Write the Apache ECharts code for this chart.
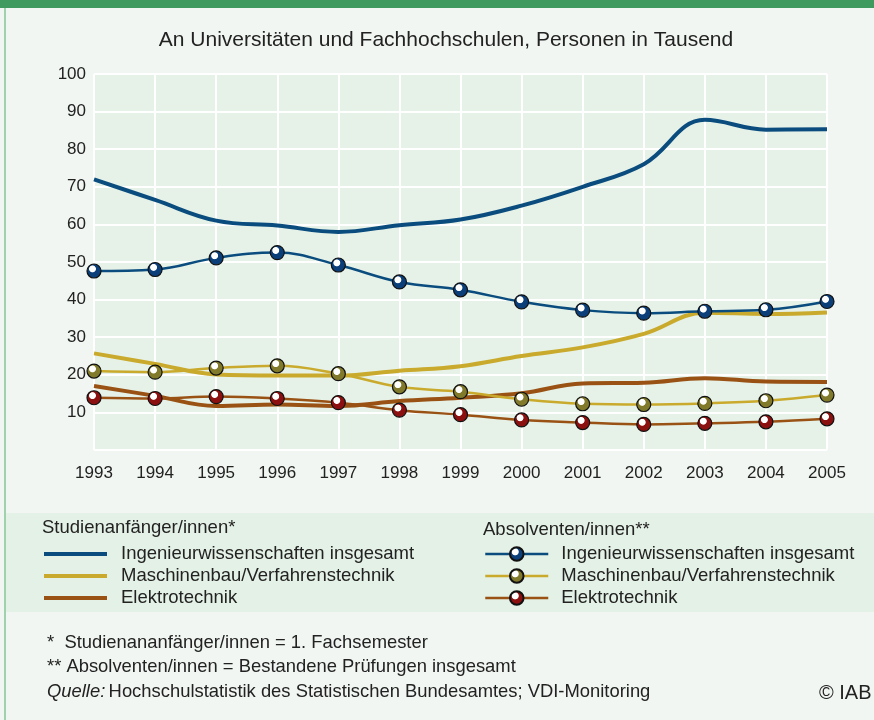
<!DOCTYPE html>
<html><head><meta charset="utf-8">
<script src="https://cdn.jsdelivr.net/npm/echarts@6/dist/echarts.min.js"></script>
<style>html,body{margin:0;padding:0;background:#f1f6f2;}#c{width:874px;height:720px;}</style>
</head><body><div id="c"></div>
<script>
var years = ['1993','1994','1995','1996','1997','1998','1999','2000','2001','2002','2003','2004','2005'];
var yTicks = [0,10,20,30,40,50,60,70,80,90,100];
var anfIng  = [72.0,66.5,61.0,59.7,58.0,59.8,61.3,65.0,70.0,76.0,87.8,85.2,85.3];
var anfMasch= [25.7,22.9,20.1,19.8,19.8,21.1,22.3,25.0,27.3,30.9,36.5,36.2,36.6];
var anfElek = [17.0,14.4,11.7,12.1,11.7,13.0,13.9,15.1,17.7,17.9,19.1,18.2,18.1];
var absIng  = [47.6,48.0,51.1,52.5,49.2,44.7,42.6,39.4,37.2,36.4,36.9,37.3,39.5];
var absMasch= [21.0,20.7,21.8,22.4,20.3,16.8,15.5,13.5,12.3,12.1,12.4,13.1,14.6];
var absElek = [13.9,13.7,14.2,13.7,12.6,10.6,9.4,8.0,7.3,6.8,7.1,7.5,8.3];
var itemNames = ['Ingenieurwissenschaften insgesamt','Maschinenbau/Verfahrenstechnik','Elektrotechnik'];
var groupNames = ['Studienanfänger/innen*','Absolventen/innen**'];

var FONT = '"Liberation Sans", Arial, sans-serif';
var cBlue='#0a4c7e', cYellow='#c9aa2c', cBrown='#995214';
var mBlue='#0b3f7a', mOlive='#807a2a', mRed='#8c1010';

function ball(c){
  return new echarts.graphic.RadialGradient(0.4,0.36,0.55,[
    {offset:0,color:'#ffffff'},{offset:0.36,color:'#ffffff'},{offset:0.46,color:c},{offset:1,color:c}]);
}
function thick(name,data,color){
  return {type:'line',name:'A|'+name,data:data,smooth:0.4,symbol:'none',z:2,
    lineStyle:{color:color,width:4},itemStyle:{color:color}};
}
function thin(name,data,color,mc){
  return {type:'line',name:'B|'+name,data:data,smooth:0.4,symbol:'circle',symbolSize:14,z:3,
    lineStyle:{color:color,width:2.5},
    itemStyle:{color:ball(mc),borderColor:'#111',borderWidth:1.2}};
}
var series = [
  thick(itemNames[0],anfIng,cBlue),
  thick(itemNames[1],anfMasch,cYellow),
  thick(itemNames[2],anfElek,cBrown),
  thin(itemNames[0],absIng,cBlue,mBlue),
  thin(itemNames[1],absMasch,cYellow,mOlive),
  thin(itemNames[2],absElek,cBrown,mRed)
];
var fmt = function(n){return n.split('|')[1];};
var legText = {fontSize:18.5,color:'#222',fontFamily:FONT,lineHeight:20};
var chart = echarts.init(document.getElementById('c'));
chart.setOption({
  backgroundColor:'#f1f6f2',
  animation:false,
  textStyle:{fontFamily:FONT},
  grid:{left:94,right:47,top:74,bottom:270,show:true,backgroundColor:'#e6f2e8',borderWidth:0},
  xAxis:{type:'category',data:years,boundaryGap:false,
    axisLine:{show:false},axisTick:{show:false},
    axisLabel:{color:'#222',fontSize:17,margin:15,fontFamily:FONT},
    splitLine:{show:true,lineStyle:{color:'#ffffff',width:2}}},
  yAxis:{type:'value',min:yTicks[0],max:yTicks[yTicks.length-1],interval:10,
    axisLine:{show:false},axisTick:{show:false},
    axisLabel:{color:'#222',fontSize:17,margin:8,fontFamily:FONT,formatter:function(v){return v===0?'':String(v);}},
    splitLine:{show:true,lineStyle:{color:'#ffffff',width:2}}},
  legend:[
    {data:series.slice(0,3).map(function(s){return {name:s.name,icon:'rect'};}),orient:'vertical',left:44,top:544,padding:0,
     itemWidth:63,itemHeight:4,itemGap:2,selectedMode:false,formatter:fmt,
     textStyle:Object.assign({padding:[0,0,0,9]},legText)},
    {data:series.slice(3).map(function(s){return s.name;}),orient:'vertical',left:484,top:544,padding:0,
     itemWidth:63,itemHeight:17,itemGap:2,selectedMode:false,formatter:fmt,
     lineStyle:{width:2.5},
     textStyle:Object.assign({padding:[0,0,0,8]},legText)}
  ],
  graphic:[
    {type:'rect',z:-10,shape:{x:0,y:0,width:874,height:8},style:{fill:'#3f9a5f'}},
    {type:'rect',z:-10,shape:{x:4,y:8,width:2,height:712},style:{fill:'#9fd1ad'}},
    {type:'rect',z:-10,shape:{x:6,y:513,width:868,height:99},style:{fill:'#e4f1e6'}},
    {type:'text',x:446,y:40,style:{text:'An Universitäten und Fachhochschulen, Personen in Tausend',font:'21px '+FONT,fill:'#222',textAlign:'center',textVerticalAlign:'middle'}},
    {type:'text',x:42,y:528,style:{text:groupNames[0],font:'18.5px '+FONT,fill:'#222',textVerticalAlign:'middle'}},
    {type:'text',x:483,y:530,style:{text:groupNames[1],font:'18.5px '+FONT,fill:'#222',textVerticalAlign:'middle'}},
    {type:'text',x:47,y:643,style:{text:'*  Studienananfänger/innen = 1. Fachsemester',font:'18.4px '+FONT,fill:'#222',textVerticalAlign:'middle'}},
    {type:'text',x:47,y:667,style:{text:'** Absolventen/innen = Bestandene Prüfungen insgesamt',font:'18.4px '+FONT,fill:'#222',textVerticalAlign:'middle'}},
    {type:'text',x:47,y:692,style:{rich:{i:{fontStyle:'italic',fontSize:18.4,fontFamily:FONT,fill:'#222'},n:{fontSize:18.4,fontFamily:FONT,fill:'#222'}},
      text:'{i|Quelle:} {n|Hochschulstatistik des Statistischen Bundesamtes; VDI-Monitoring}',textVerticalAlign:'middle'}},
    {type:'text',x:819,y:693,style:{text:'© IAB',font:'20px '+FONT,fill:'#222',textVerticalAlign:'middle'}}
  ],
  series:series
});
</script></body></html>
